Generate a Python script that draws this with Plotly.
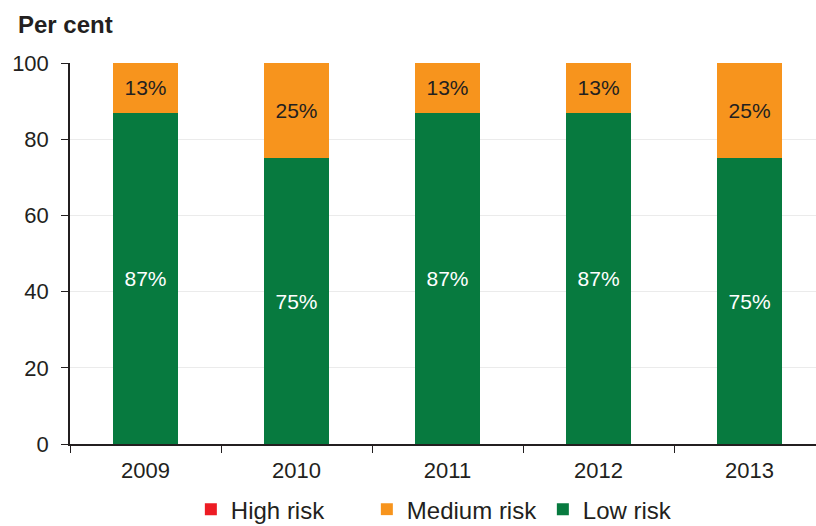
import plotly.graph_objects as go

years = ["2009", "2010", "2011", "2012", "2013"]
high_risk = [0, 0, 0, 0, 0]
medium_risk = [13, 25, 13, 13, 25]
low_risk = [87, 75, 87, 87, 75]
y_ticks = [0, 20, 40, 60, 80, 100]

RED = "#ED1C24"
ORANGE = "#F7941D"
GREEN = "#077A3F"
INK = "#231F20"
FONT = "Liberation Sans, Arial, sans-serif"

fig = go.Figure()
fig.add_trace(go.Bar(
    x=years, y=low_risk, name="Low risk", marker=dict(color=GREEN, line=dict(width=0)),
    text=[f"{v}%" for v in low_risk], textposition="inside", insidetextanchor="middle",
    textfont=dict(color="white", size=21, family=FONT),
))
fig.add_trace(go.Bar(
    x=years, y=medium_risk, name="Medium risk", marker=dict(color=ORANGE, line=dict(width=0)),
    text=[f"{v}%" for v in medium_risk], textposition="inside", insidetextanchor="middle",
    textfont=dict(color=INK, size=21, family=FONT),
))
fig.add_trace(go.Bar(
    x=years, y=high_risk, name="High risk", marker=dict(color=RED, line=dict(width=0)),
))

fig.update_layout(
    width=816, height=526,
    margin=dict(l=70, r=0, t=63, b=82, autoexpand=False),
    barmode="stack", bargap=0.57,
    plot_bgcolor="white", paper_bgcolor="white",
    font=dict(family=FONT, size=22, color=INK),
    uniformtext=dict(mode="show", minsize=10),
    showlegend=True,
    legend=dict(
        orientation="h", traceorder="reversed",
        x=0.162, xanchor="left", yref="paper", y=-0.172, yanchor="middle",
        font=dict(size=24, family=FONT, color=INK),
        itemwidth=30, tracegroupgap=0, entrywidth=131, entrywidthmode="pixels",
    ),
    annotations=[dict(
        text="<b>Per cent</b>", xref="paper", yref="paper",
        x=-0.072, y=1.10, xanchor="left", yanchor="middle", showarrow=False,
        font=dict(size=24, family=FONT, color=INK),
    )],
)
fig.update_xaxes(
    type="category", range=[-0.5, 4.44],
    showline=True, linecolor=INK, linewidth=1.5,
    ticks="outside", tickson="boundaries", ticklen=7, tickcolor=INK,
    tickfont=dict(size=22), ticklabelstandoff=6, showgrid=False,
)
fig.update_yaxes(
    range=[0, 100], tickvals=y_ticks,
    showline=True, linecolor=INK, linewidth=1.5,
    ticks="outside", ticklen=7, tickcolor=INK,
    tickfont=dict(size=22), ticklabelstandoff=8,
    showgrid=True, gridcolor="#EBEBEB", gridwidth=1,
    zeroline=False,
)

fig.write_html("out.html")
